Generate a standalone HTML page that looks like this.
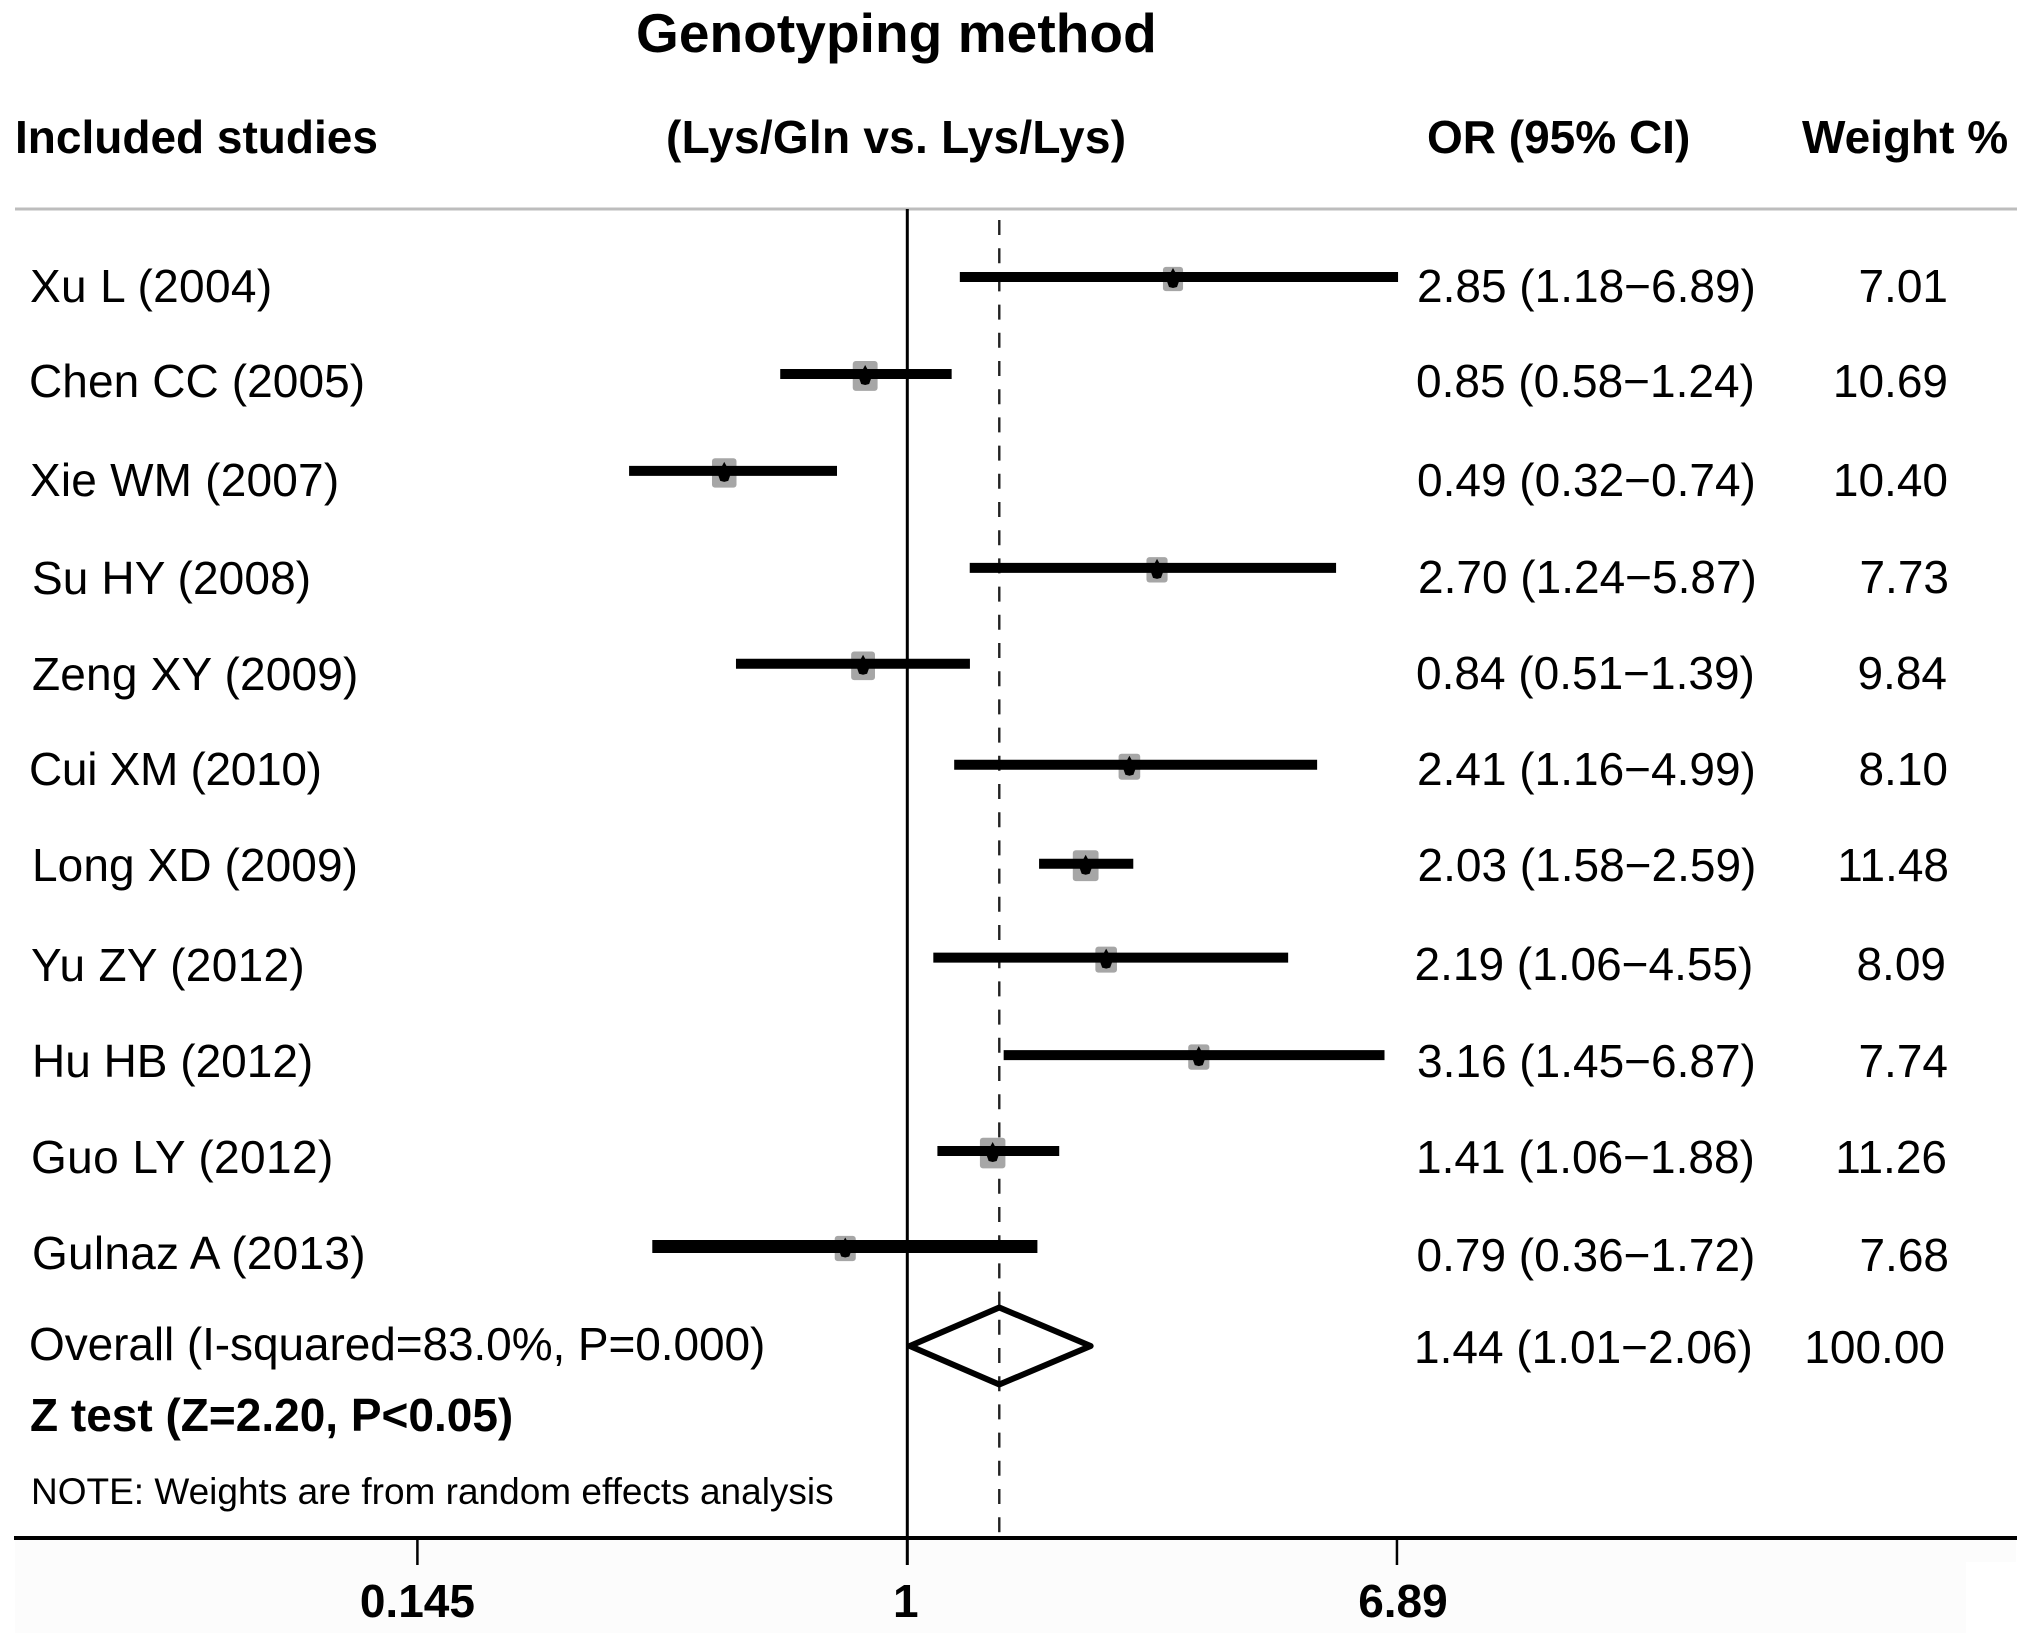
<!DOCTYPE html>
<html lang="en">
<head>
<meta charset="utf-8">
<title>Genotyping method forest plot</title>
<style>
  html, body { margin: 0; padding: 0; background: #fff; }
  svg { display: block; }
  text { font-family: "Liberation Sans", Arial, sans-serif; fill: #000; }
  .row { font-size: 46px; }
  .b { font-size: 46px; font-weight: 700; }
  .tick { font-size: 46px; font-weight: 700; }
  .end { text-anchor: end; }
</style>
</head>
<body>
<svg id="chart" xmlns="http://www.w3.org/2000/svg" width="2031" height="1648" viewBox="0 0 2031 1648">
  <rect x="0" y="0" width="2031" height="1648" fill="#ffffff"/>
  <rect x="15" y="1540" width="1951" height="93" fill="#fcfcfc"/>
  <rect x="1966" y="1540" width="50" height="22" fill="#fcfcfc"/>

  <text x="636" y="52" font-size="55" font-weight="700" style="letter-spacing:.08px">Genotyping method</text>
  <text class="b" x="15" y="153">Included studies</text>
  <text class="b" x="666" y="153" style="letter-spacing:.25px">(Lys/Gln vs. Lys/Lys)</text>
  <text class="b" x="1427" y="153">OR (95% CI)</text>
  <text class="b" x="1802" y="153">Weight %</text>
  <line x1="15" y1="209" x2="2017" y2="209" stroke="#bdbdbd" stroke-width="3"/>

  <g id="marks"></g>

  <g>
    <text class="row" x="30" y="302" style="letter-spacing:.35px">Xu L (2004)</text>
    <text class="row" x="29" y="397" style="letter-spacing:.09px">Chen CC (2005)</text>
    <text class="row" x="30" y="496" style="letter-spacing:.2px">Xie WM (2007)</text>
    <text class="row" x="32" y="594" style="letter-spacing:.11px">Su HY (2008)</text>
    <text class="row" x="32" y="690" style="letter-spacing:.19px">Zeng XY (2009)</text>
    <text class="row" x="29" y="785" style="letter-spacing:-.3px">Cui XM (2010)</text>
    <text class="row" x="32" y="881" style="letter-spacing:.09px">Long XD (2009)</text>
    <text class="row" x="31" y="981" style="letter-spacing:.32px">Yu ZY (2012)</text>
    <text class="row" x="32" y="1077">Hu HB (2012)</text>
    <text class="row" x="31" y="1173" style="letter-spacing:.4px">Guo LY (2012)</text>
    <text class="row" x="32" y="1269" style="letter-spacing:.26px">Gulnaz A (2013)</text>
    <text class="row" x="29" y="1360" style="letter-spacing:-.08px">Overall (I-squared=83.0%, P=0.000)</text>
    <text class="b" x="30" y="1431">Z test (Z=2.20, P&lt;0.05)</text>
    <text x="31" y="1504" font-size="37">NOTE: Weights are from random effects analysis</text>
  </g>

  <g>
    <text class="row" x="1417" y="302">2.85 (1.18−6.89)</text>
    <text class="row" x="1416" y="397">0.85 (0.58−1.24)</text>
    <text class="row" x="1417" y="496">0.49 (0.32−0.74)</text>
    <text class="row" x="1418" y="593">2.70 (1.24−5.87)</text>
    <text class="row" x="1416" y="689">0.84 (0.51−1.39)</text>
    <text class="row" x="1417" y="785">2.41 (1.16−4.99)</text>
    <text class="row" x="1417.5" y="881">2.03 (1.58−2.59)</text>
    <text class="row" x="1414.5" y="980">2.19 (1.06−4.55)</text>
    <text class="row" x="1417" y="1077">3.16 (1.45−6.87)</text>
    <text class="row" x="1416" y="1173">1.41 (1.06−1.88)</text>
    <text class="row" x="1416.5" y="1271">0.79 (0.36−1.72)</text>
    <text class="row" x="1414" y="1363">1.44 (1.01−2.06)</text>
  </g>

  <g>
    <text class="row end" x="1948" y="302">7.01</text>
    <text class="row end" x="1948" y="397">10.69</text>
    <text class="row end" x="1948" y="496">10.40</text>
    <text class="row end" x="1949" y="593">7.73</text>
    <text class="row end" x="1947" y="689">9.84</text>
    <text class="row end" x="1948" y="785">8.10</text>
    <text class="row end" x="1949" y="881">11.48</text>
    <text class="row end" x="1946" y="980">8.09</text>
    <text class="row end" x="1948" y="1077">7.74</text>
    <text class="row end" x="1947" y="1173">11.26</text>
    <text class="row end" x="1949" y="1271">7.68</text>
    <text class="row end" x="1945" y="1363">100.00</text>
  </g>

  <g id="ticks"></g>
</svg>

<script>
// Plotted values (OR scale)
const studies = ["Xu L", "Chen CC", "Xie WM", "Su HY", "Zeng XY", "Cui XM", "Long XD", "Yu ZY", "Hu HB", "Guo LY", "Gulnaz A"];
const orValues = [2.85, 0.847, 0.486, 2.676, 0.84, 2.40, 2.02, 2.19, 3.155, 1.40, 0.783];
const ciLower = [1.23, 0.606, 0.334, 1.279, 0.509, 1.203, 1.681, 1.108, 1.462, 1.126, 0.366];
const ciUpper = [6.92, 1.191, 0.758, 5.42, 1.28, 5.03, 2.437, 4.487, 6.56, 1.82, 1.67];
const weights = [7.01, 10.69, 10.40, 7.73, 9.84, 8.10, 11.48, 8.09, 7.74, 11.26, 7.68];
const overallOr = [1.437];
const overallCi = [1.01, 2.06];
const tickValues = [0.145, 1, 6.89];
const tickLabels = ["0.145", "1", "6.89"];

const NS = "http://www.w3.org/2000/svg";
const marks = document.getElementById("marks");
const ticks = document.getElementById("ticks");
const rowNudgePx = [0, 0, 0, 0, -1, 3, 5, 2, 2.5, 1.5, 0];

function x(v) { return 907.3 + 253.7 * Math.log(v); }
function y(i) { return 277 + 96.95 * i + rowNudgePx[i]; }
function make(tag, parent, attrs) {
  const el = document.createElementNS(NS, tag);
  for (const k in attrs) el.setAttribute(k, attrs[k]);
  parent.appendChild(el);
  return el;
}

// Null line and overall-effect dashed line
const nullLine = make("line", marks, { x1: x(1), x2: x(1), y1: 209, y2: 1565, stroke: "#000", "stroke-width": 3 });



const overallLine = make("line", marks, { x1: x(overallOr[0]), x2: x(overallOr[0]), y1: 220, y2: 1538, stroke: "#222", "stroke-width": 2.4, "stroke-dasharray": "15 13.2" });



// Study rows
studies.forEach(function (name, i) {
  const cx = x(orValues[i]);
  const cy = y(i);
  const w = 7.6 * Math.sqrt(weights[i]);
  const h = w * 1.2;
  const thick = i === studies.length - 1 ? 13 : 10;

  const box = make("rect", marks, { x: cx - w / 2, y: cy + 2 - h / 2, width: w, height: h, rx: 3, fill: "#a6a6a6" });
  
  

  const ci = make("line", marks, { x1: x(ciLower[i]), x2: x(ciUpper[i]), y1: cy, y2: cy, stroke: "#000", "stroke-width": thick });
  
  

  const pts = [[cx, cy - 9], [cx + 6.5, cy + 3], [cx + 4, cy + 10], [cx, cy + 11], [cx - 4, cy + 10], [cx - 6.5, cy + 3]]
    .map(function (p) { return p[0] + "," + p[1]; }).join(" ");
  const pt = make("polygon", marks, { points: pts, fill: "#000" });
  
  
});

// Overall diamond
const dy = 1346;
const dxL = x(overallCi[0]);
const dxC = x(overallOr[0]);
const dxR = x(overallCi[1]);
const dPts = [[dxL, dy], [dxC, dy - 38.5], [dxR, dy], [dxC, dy + 38.5]]
  .map(function (p) { return p[0] + "," + p[1]; }).join(" ");
const diamond = make("polygon", marks, { points: dPts, fill: "none", stroke: "#000", "stroke-width": 6, "stroke-linejoin": "round" });



// X axis
const axis = make("line", ticks, { x1: 14, x2: 2017, y1: 1538, y2: 1538, stroke: "#000", "stroke-width": 4 });



tickValues.forEach(function (v, i) {
  const tk = make("line", ticks, { x1: x(v), x2: x(v), y1: 1538, y2: 1565, stroke: "#000", "stroke-width": 2.5 });
  
  

  const lb = make("text", ticks, { x: x(v) + (i === 2 ? 6 : (i === 1 ? -1.5 : 0)), y: 1617, class: "tick", "text-anchor": "middle" });
  lb.textContent = tickLabels[i];
  
  
});
</script>
</body>
</html>
